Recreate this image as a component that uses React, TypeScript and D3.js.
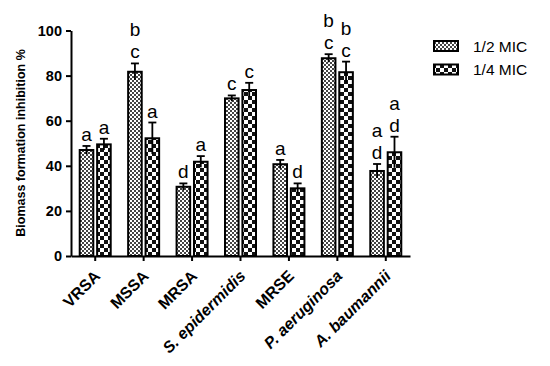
import { useRef, useEffect } from 'react';
import * as d3 from 'd3';

const categories = ['VRSA', 'MSSA', 'MRSA', 'S. epidermidis', 'MRSE', 'P. aeruginosa', 'A. baumannii'];
const italicCats = ['S. epidermidis', 'P. aeruginosa', 'A. baumannii'];
const seriesNames = ['1/2 MIC', '1/4 MIC'];
const halfMic = [47, 81.7, 30.7, 69.9, 40.7, 87.7, 37.7];
const halfMicErr = [1.8, 3.7, 1.5, 1.3, 1.9, 1.8, 3.1];
const quarterMic = [49.5, 52.2, 41.8, 73.6, 30, 81.5, 46];
const quarterMicErr = [2.5, 7, 2.5, 3.2, 2.2, 4.7, 6.9];
const halfLetters = [['a'], ['b', 'c'], ['d'], ['c'], ['a'], ['b', 'c'], ['a', 'd']];
const quarterLetters = [['a'], ['a'], ['a'], ['c'], ['d'], ['b', 'c'], ['a', 'd']];
const yTicks = [0, 20, 40, 60, 80, 100];

const font = 'Arial, "Liberation Sans", sans-serif';

function App() {
  const ref = useRef<SVGSVGElement | null>(null);

  useEffect(() => {
    const el = ref.current;
    if (!el) return;
    el.innerHTML = '';
    const svg = d3.select(el);

    const defs = svg.append('defs');
    // fine checker for 1/2 MIC
    const p1 = defs.append('pattern').attr('id', 'fine').attr('patternUnits', 'userSpaceOnUse')
      .attr('width', 4).attr('height', 4);
    p1.append('rect').attr('width', 4).attr('height', 4).attr('fill', '#fff');
    p1.append('rect').attr('width', 2).attr('height', 2).attr('fill', '#444');
    p1.append('rect').attr('x', 2).attr('y', 2).attr('width', 2).attr('height', 2).attr('fill', '#444');
    // coarse checker for 1/4 MIC
    const p2 = defs.append('pattern').attr('id', 'coarse').attr('patternUnits', 'userSpaceOnUse')
      .attr('width', 8).attr('height', 8);
    p2.append('rect').attr('width', 8).attr('height', 8).attr('fill', '#fff');
    p2.append('rect').attr('width', 4).attr('height', 4).attr('fill', '#111');
    p2.append('rect').attr('x', 4).attr('y', 4).attr('width', 4).attr('height', 4).attr('fill', '#111');

    const x = d3.scaleBand<string>().domain(categories).range([71, 410]).paddingInner(0.36).paddingOuter(0.18);
    const xs = d3.scaleBand<string>().domain(seriesNames).range([0, x.bandwidth()]).paddingInner(0.22);
    const y = d3.scaleLinear().domain([0, 100]).range([256, 30.5]);

    const series = [
      { name: seriesNames[0], values: halfMic, err: halfMicErr, letters: halfLetters, fill: 'url(#fine)' },
      { name: seriesNames[1], values: quarterMic, err: quarterMicErr, letters: quarterLetters, fill: 'url(#coarse)' },
    ];

    const g = svg.append('g');
    series.forEach(s => {
      categories.forEach((c, i) => {
        const bx = (x(c) as number) + (xs(s.name) as number);
        const bw = xs.bandwidth();
        const cx = bx + bw / 2;
        g.append('rect')
          .attr('x', bx).attr('y', y(s.values[i]))
          .attr('width', bw).attr('height', y(0) - y(s.values[i]))
          .attr('fill', s.fill).attr('stroke', '#000').attr('stroke-width', 2);
        const top = y(s.values[i] + s.err[i]);
        g.append('line').attr('x1', cx).attr('x2', cx)
          .attr('y1', y(s.values[i] - s.err[i])).attr('y2', top)
          .attr('stroke', '#000').attr('stroke-width', 1.8);
        g.append('line').attr('x1', cx - 4).attr('x2', cx + 4)
          .attr('y1', top).attr('y2', top)
          .attr('stroke', '#000').attr('stroke-width', 1.8);
        const lets = s.letters[i];
        lets.forEach((l, j) => {
          g.append('text')
            .attr('x', cx).attr('y', top - 5 - (lets.length - 1 - j) * 22)
            .attr('text-anchor', 'middle')
            .attr('font-family', font).attr('font-size', 19)
            .text(l);
        });
      });
    });

    // y axis
    const ya = svg.append('g').attr('transform', 'translate(71,0)')
      .call(d3.axisLeft(y).tickValues(yTicks).tickSize(5).tickSizeOuter(0));
    ya.select('.domain').attr('stroke-width', 2);
    ya.selectAll('.tick line').attr('stroke-width', 2);
    ya.selectAll('.tick text').attr('font-family', font).attr('font-size', 14.5)
      .attr('font-weight', 'bold').attr('fill', '#000').attr('dx', '-1');

    // x axis
    const xa = svg.append('g').attr('transform', 'translate(0,256)')
      .call(d3.axisBottom(x).tickSize(5).tickSizeOuter(0));
    xa.select('.domain').attr('stroke-width', 2);
    xa.selectAll('.tick line').attr('stroke-width', 2);
    xa.selectAll<SVGTextElement, string>('.tick text')
      .attr('font-family', font).attr('font-size', 16).attr('font-weight', 'bold')
      .attr('fill', '#000')
      .attr('font-style', d => (italicCats.includes(d) ? 'italic' : 'normal'))
      .attr('text-anchor', 'end')
      .attr('x', 0).attr('y', 0).attr('dy', '0')
      .attr('transform', 'translate(6,21) rotate(-45)');

    // y label
    svg.append('text')
      .attr('transform', 'translate(25,143) rotate(-90)')
      .attr('text-anchor', 'middle')
      .attr('font-family', font).attr('font-size', 12.5).attr('font-weight', 'bold')
      .text('Biomass formation inhibition %');

    // legend
    const lg = svg.append('g');
    series.forEach((s, i) => {
      lg.append('rect')
        .attr('x', 434).attr('y', 41 + i * 23.5).attr('width', 24).attr('height', 10)
        .attr('fill', s.fill).attr('stroke', '#000').attr('stroke-width', 2);
      lg.append('text')
        .attr('x', 473).attr('y', 51.5 + i * 23.5)
        .attr('font-family', font).attr('font-size', 15.5)
        .text(s.name);
    });
  }, []);

  return (
    <svg ref={ref} width={550} height={366}
      style={{ position: 'absolute', left: 0, top: 0, background: '#fff' }} />
  );
}

export default App;
